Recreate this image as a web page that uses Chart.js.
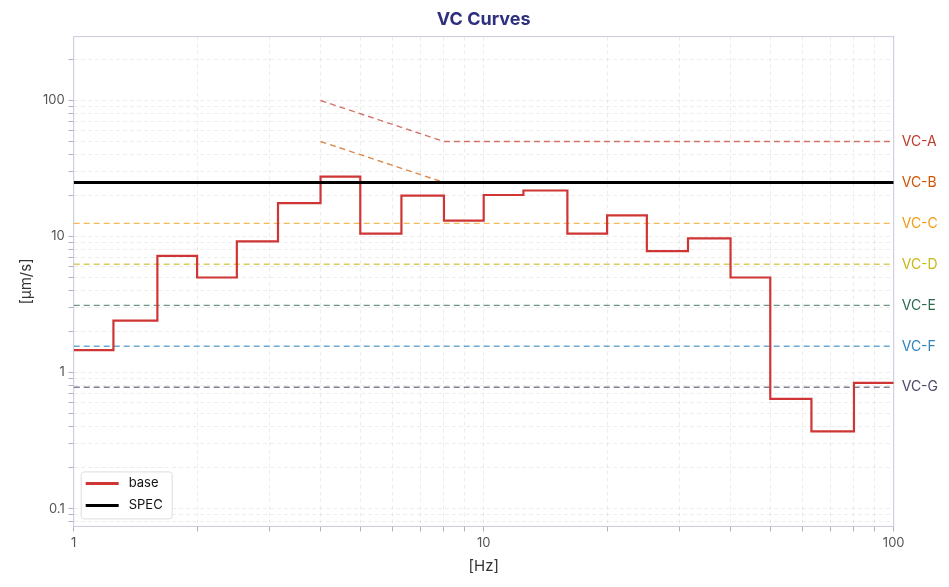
<!DOCTYPE html>
<html>
<head>
<meta charset="utf-8">
<script src="https://cdn.jsdelivr.net/npm/chart.js@4/dist/chart.umd.min.js"></script>
<style>
  html, body { margin: 0; padding: 0; background: #fff; }
  #wrap { width: 949px; height: 587px; position: relative; }
</style>
</head>
<body>
<div id="wrap"><canvas id="cht-vc"></canvas></div>
<script>
// third-octave band centres and the measured velocity in each band
var bandFreqs = [1, 1.25, 1.6, 2, 2.5, 3.15, 4, 5, 6.3, 8, 10, 12.5, 16, 20, 25, 31.5, 40, 50, 63, 80, 100];
var baseValues = [1.46, 2.41, 7.2, 5.0, 9.2, 17.6, 27.6, 10.5, 20.0, 13.1, 20.2, 21.8, 10.5, 14.3, 7.8, 9.7, 5.0, 0.64, 0.37, 0.84, 0.84];

var specFreqs = [1, 100];
var specValues = [25, 25];

// VC criteria
var vcNames = ['VC-A', 'VC-B', 'VC-C', 'VC-D', 'VC-E', 'VC-F', 'VC-G'];
var vcLevels = [50, 25, 12.5, 6.25, 3.12, 1.56, 0.78];
var vcColours = ['#c0392b', '#d35400', '#f39c12', '#c9b81a', '#2e6b4f', '#2e86c1', '#4a4a6a'];
var vcSlopeFreqs = [4, 8, 100];
var vcAValues = [100, 50, 50];
var vcBValues = [50, 25, 25];
var vcFlatFreqs = [1, 100];

var yTickLabels = [0.1, 1, 10, 100];
var xTickLabels = [1, 10, 100];

function pts(xs, ys) {
    var out = [];
    for (var i = 0; i < xs.length; i++) out.push({ x: xs[i], y: ys[i] });
    return out;
}

function fade(hex, a) {
    var n = parseInt(hex.slice(1), 16);
    return 'rgba(' + (n >> 16) + ',' + ((n >> 8) & 255) + ',' + (n & 255) + ',' + a + ')';
}

function logTicks(lo, hi) {
    var t = [];
    for (var e = lo; e < hi; e++) {
        for (var m = 1; m < 10; m++) t.push({ value: +(m * Math.pow(10, e)).toPrecision(3) });
    }
    t.push({ value: Math.pow(10, hi) });
    return t;
}

var datasets = [];
datasets.push({ label: 'SPEC', data: pts(specFreqs, specValues), borderColor: '#000', borderWidth: 3, legendItem: true });
datasets.push({ label: 'base', data: pts(bandFreqs, baseValues), borderColor: '#d03535', borderWidth: 2.2, stepped: 'before', legendItem: true });
for (var i = 0; i < vcNames.length; i++) {
    var d;
    if (i == 0) d = pts(vcSlopeFreqs, vcAValues);
    else if (i == 1) d = pts(vcSlopeFreqs, vcBValues);
    else d = pts(vcFlatFreqs, [vcLevels[i], vcLevels[i]]);
    datasets.push({ label: vcNames[i], data: d, borderColor: fade(vcColours[i], 0.7), borderWidth: 1.4, borderDash: [6, 4] });
}

var yMin = 0.074, yMax = 295;

var framePlugin = {
    id: 'frame',
    beforeDatasetsDraw: function (chart) {
        var a = chart.chartArea, ctx = chart.ctx;
        ctx.save();
        ctx.strokeStyle = '#c9c9dd';
        ctx.lineWidth = 1;
        ctx.strokeRect(a.left, a.top, a.right - a.left, a.bottom - a.top);
        ctx.restore();
    }
};

var boxLegend = {
    id: 'boxLegend',
    afterDatasetsDraw: function (chart) {
        var a = chart.chartArea, ctx = chart.ctx;
        var items = chart.data.datasets.filter(function (ds) { return ds.legendItem; }).reverse();
        var x = a.left + 7, rowH = 22, h = items.length * rowH + 3, w = 91;
        var y = a.bottom - 8 - h;
        ctx.save();
        ctx.fillStyle = '#fff';
        ctx.strokeStyle = '#dcdce4';
        ctx.lineWidth = 1;
        ctx.beginPath();
        ctx.roundRect(x + 0.5, y + 0.5, w, h, 3);
        ctx.fill();
        ctx.stroke();
        ctx.font = '13px Inter';
        ctx.textBaseline = 'middle';
        items.forEach(function (ds, k) {
            var cy = y + 12 + k * rowH;
            ctx.strokeStyle = ds.borderColor;
            ctx.lineWidth = 3;
            ctx.beginPath();
            ctx.moveTo(x + 5, cy);
            ctx.lineTo(x + 38, cy);
            ctx.stroke();
            ctx.fillStyle = '#111';
            ctx.fillText(ds.label, x + 48, cy);
        });
        ctx.restore();
    }
};

Chart.defaults.font.family = 'Inter';

var chV = document.getElementById('cht-vc');
var chtVc = new Chart(chV, {
    type: 'line',
    data: { datasets: datasets },
    plugins: [framePlugin, boxLegend],
    options: {
        responsive: true,
        maintainAspectRatio: false,
        animation: false,
        layout: { padding: { left: 13, right: 11, top: 3, bottom: 8 } },
        elements: { point: { radius: 0 }, line: { tension: 0 } },
        plugins: {
            legend: { display: false },
            tooltip: { enabled: false },
            title: {
                display: true, text: 'VC Curves', color: '#2f2f80', fullSize: false,
                font: { size: 18, weight: 'bold' }, padding: { top: 6, bottom: 6 }
            }
        },
        scales: {
            x: {
                type: 'logarithmic', min: 1, max: 100,
                afterBuildTicks: function (s) { s.ticks = logTicks(0, 2); },
                ticks: {
                    autoSkip: false, maxRotation: 0, color: '#555', font: { size: 13 }, padding: 4,
                    callback: function (v) { return xTickLabels.indexOf(v) > -1 ? String(v) : ''; }
                },
                grid: { color: 'rgba(0,0,0,0.07)', tickColor: '#b0b0c0', tickLength: 5 },
                border: { display: false, dash: [4, 3] },
                title: { display: true, text: '[Hz]', color: '#333', font: { size: 15 }, padding: { top: 2 } }
            },
            y: {
                type: 'logarithmic', min: yMin, max: yMax,
                afterBuildTicks: function (s) { s.ticks = logTicks(-2, 3).filter(function (t) { return t.value >= yMin && t.value <= yMax; }); },
                ticks: {
                    autoSkip: false, color: '#555', font: { size: 13 }, padding: 4,
                    callback: function (v) { return yTickLabels.indexOf(v) > -1 ? String(v) : ''; }
                },
                grid: { color: 'rgba(0,0,0,0.07)', tickColor: '#b0b0c0', tickLength: 5 },
                border: { display: false, dash: [4, 3] },
                title: { display: true, text: '[µm/s]', color: '#333', font: { size: 15 } }
            },
            y2: {
                type: 'logarithmic', position: 'right', min: yMin, max: yMax,
                afterBuildTicks: function (s) { s.ticks = vcLevels.map(function (v) { return { value: v }; }); },
                ticks: {
                    autoSkip: false, font: { size: 14 }, padding: 0,
                    color: function (c) { return vcColours[c.index]; },
                    callback: function (v, i) { return vcNames[i]; }
                },
                grid: { display: false },
                border: { display: false }
            }
        }
    }
});
</script>
</body>
</html>
